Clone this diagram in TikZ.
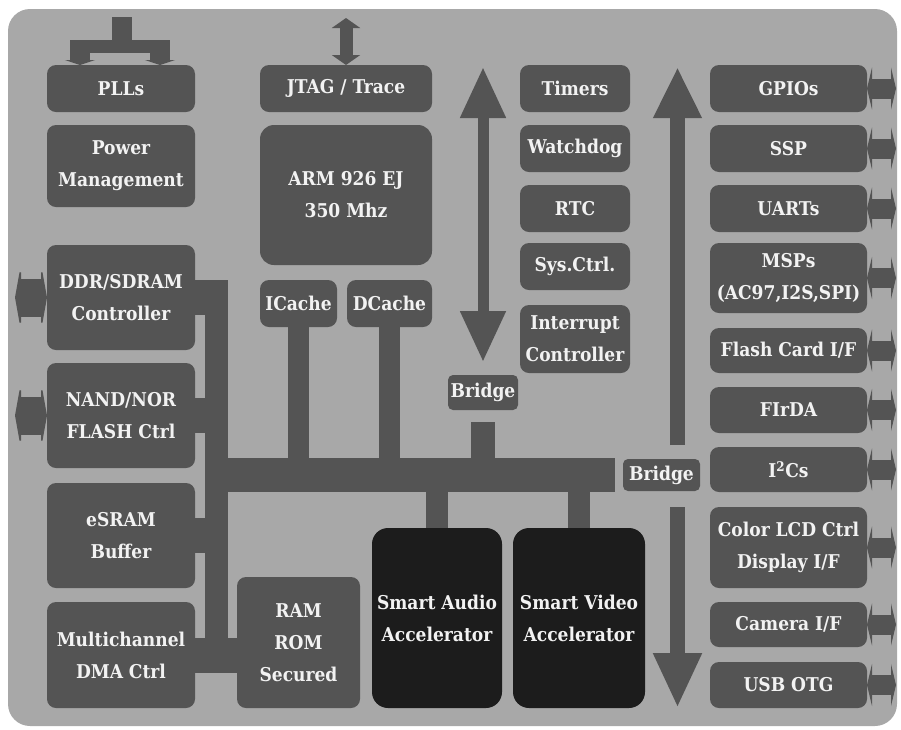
\documentclass[tikz,border=0pt]{standalone}
\usepackage{fontspec}
\setmainfont{DejaVu Serif Condensed}
\usetikzlibrary{arrows.meta}
\definecolor{panel}{RGB}{168,168,168}
\definecolor{block}{RGB}{84,84,84}
\definecolor{core}{RGB}{28,28,28}
\definecolor{label}{RGB}{242,242,242}

\tikzset{
  blk/.style={fill=block,rounded corners=9pt,text=label,align=center,
    inner sep=0pt,outer sep=0pt,
    font=\bfseries\fontsize{19}{32}\selectfont},
  acc/.style={blk,fill=core,rounded corners=16pt},
  bus/.style={draw=block,line width=#1},
  flow/.style={draw=block,line width=#1},
  port/.style={draw=block,line width=#1},
}

\begin{document}
\begin{tikzpicture}[x=1pt,y=-1pt]
\useasboundingbox (0,0) rectangle (901,729);
\fill[panel,rounded corners=22pt] (8,9) rectangle (897,726);

% left column
\node[blk,minimum width=148pt,minimum height=47pt]  (PLLs)  at (121,88.5)  {PLLs};
\node[blk,minimum width=148pt,minimum height=82pt]  (Power) at (121,166)   {Power\\Management};
\node[blk,minimum width=148pt,minimum height=105pt] (DDR)   at (121,297.5) {DDR/SDRAM\\Controller};
\node[blk,minimum width=148pt,minimum height=105pt] (NAND)  at (121,415.5) {NAND/NOR\\FLASH Ctrl};
\node[blk,minimum width=148pt,minimum height=105pt] (eSRAM) at (121,535.5) {eSRAM\\Buffer};
\node[blk,minimum width=148pt,minimum height=106pt] (DMA)   at (121,655)   {Multichannel\\DMA Ctrl};
\node[blk,minimum width=123pt,minimum height=131pt] (RAM)   at (298.5,642.5) {RAM\\ROM\\Secured};

% core
\node[blk,minimum width=172pt,minimum height=47pt]  (JTAG)   at (346,88.5)  {JTAG / Trace};
\node[blk,minimum width=172pt,minimum height=140pt,rounded corners=14pt] (ARM) at (346,195) {ARM 926 EJ\\350 Mhz};
\node[blk,minimum width=77pt,minimum height=47pt]   (ICache) at (298.5,303.5) {ICache};
\node[blk,minimum width=85pt,minimum height=47pt]   (DCache) at (389.5,303.5) {DCache};

% system peripherals
\node[blk,minimum width=110pt,minimum height=47pt] (Timers)   at (575,88.5)  {Timers};
\node[blk,minimum width=110pt,minimum height=47pt] (Watchdog) at (575,148.5) {Watchdog};
\node[blk,minimum width=110pt,minimum height=47pt] (RTC)      at (575,208.5) {RTC};
\node[blk,minimum width=110pt,minimum height=47pt] (SysCtrl)  at (575,266.5) {Sys.Ctrl.};
\node[blk,minimum width=110pt,minimum height=68pt] (IRQ)      at (575,339)   {Interrupt\\Controller};
\node[blk,minimum width=70pt,minimum height=35pt,rounded corners=5pt] (BridgeA) at (483,392.5) {Bridge};
\node[blk,minimum width=77pt,minimum height=32pt,rounded corners=5pt] (BridgeB) at (661.5,475) {Bridge};

% accelerators
\node[acc,minimum width=130pt,minimum height=180pt] (Audio) at (437,618) {Smart Audio\\Accelerator};
\node[acc,minimum width=132pt,minimum height=180pt] (Video) at (579,618) {Smart Video\\Accelerator};

% i/o column
\node[blk,minimum width=157pt,minimum height=47pt] (GPIOs) at (788.5,88.5)  {GPIOs};
\node[blk,minimum width=157pt,minimum height=47pt] (SSP)   at (788.5,148.5) {SSP};
\node[blk,minimum width=157pt,minimum height=47pt] (UARTs) at (788.5,208.5) {UARTs};
\node[blk,minimum width=157pt,minimum height=70pt] (MSPs)  at (788.5,278)   {MSPs\\(AC97,I2S,SPI)};
\node[blk,minimum width=157pt,minimum height=45pt] (Flash) at (788.5,350.5) {Flash Card I/F};
\node[blk,minimum width=157pt,minimum height=46pt] (FIrDA) at (788.5,410)   {FIrDA};
\node[blk,minimum width=157pt,minimum height=45pt] (I2Cs)  at (788.5,469.5) {I\textsuperscript{2}Cs};
\node[blk,minimum width=157pt,minimum height=81pt] (LCD)   at (788.5,547.5) {Color LCD Ctrl\\Display I/F};
\node[blk,minimum width=157pt,minimum height=45pt] (Camera) at (788.5,624.5) {Camera I/F};
\node[blk,minimum width=157pt,minimum height=46pt] (USB)   at (788.5,685)   {USB OTG};

% bus
\coordinate (vbar) at (216.5,0);
\coordinate (vtop) at (216.5,280);
\coordinate (vbot) at (216.5,672.5);
\coordinate (busL) at (205,475);
\draw[bus=23pt] (vtop) -- (vbot);
\foreach \n in {DDR,NAND,eSRAM}
  \draw[bus=35pt] (\n.east) -- (\n.east -| vbar);
\draw[bus=35pt] (DMA.east) -- (DMA.east -| RAM.west);
\draw[bus=34pt,shorten >=8pt] (busL) -- (BridgeB.west);
\draw[bus=21pt] (ICache.south) -- (ICache.south |- busL);
\draw[bus=21pt] (DCache.south) -- (DCache.south |- busL);
\draw[bus=24pt,shorten <=12pt] (BridgeA.south) -- (BridgeA.south |- busL);
\draw[bus=22pt] (Audio.north) -- (Audio.north |- busL);
\draw[bus=22pt] (Video.north) -- (Video.north |- busL);

% big flow arrows
\coordinate (aTop) at (483,67);
\coordinate (aBot) at (483,362);
\coordinate (bTop) at (677.5,67);
\coordinate (bEnd) at (677.5,445);
\coordinate (cBeg) at (677.5,507);
\coordinate (cTip) at (677.5,708);
\draw[flow=11pt,{Triangle[length=51pt,width=43pt]}-{Triangle[length=51pt,width=43pt]}] (aTop) -- (aBot);
\draw[flow=15pt,-{Triangle[length=51pt,width=45pt]}] (bEnd) -- (bTop);
\draw[flow=15pt,-{Triangle[length=55pt,width=45pt]}] (cBeg) -- (cTip);

% clock and debug
\coordinate (clkIn) at (122,17);
\coordinate (jtagIn) at (346,18);
\fill[block] (70,40) rectangle (170,53);
\draw[flow=20pt] (clkIn) -- (122,41);
\foreach \x in {80,160}
  \draw[flow=20pt,-{Triangle[length=5pt,width=30pt]}] (\x,52) -- (\x,52 |- PLLs.north);
\draw[flow=13pt,{Triangle[length=10pt,width=28pt]}-{Triangle[length=10pt,width=28pt]}] (jtagIn) -- (JTAG.north);

% external ports
\coordinate (portL) at (15,0);
\coordinate (portR) at (896,0);
\foreach \n in {DDR,NAND}
  \draw[port=38pt,{Triangle[length=6pt,width=67pt]}-{Triangle[length=6pt,width=67pt]}] (\n.west) -- (\n.west -| portL);
\foreach \n in {GPIOs,SSP,UARTs,MSPs,Flash,FIrDA,I2Cs,LCD,Camera,USB}
  \draw[port=20pt,{Triangle[length=5pt,width=42pt]}-{Triangle[length=5pt,width=42pt]}] (\n.east) -- (\n.east -| portR);
\end{tikzpicture}
\end{document}
